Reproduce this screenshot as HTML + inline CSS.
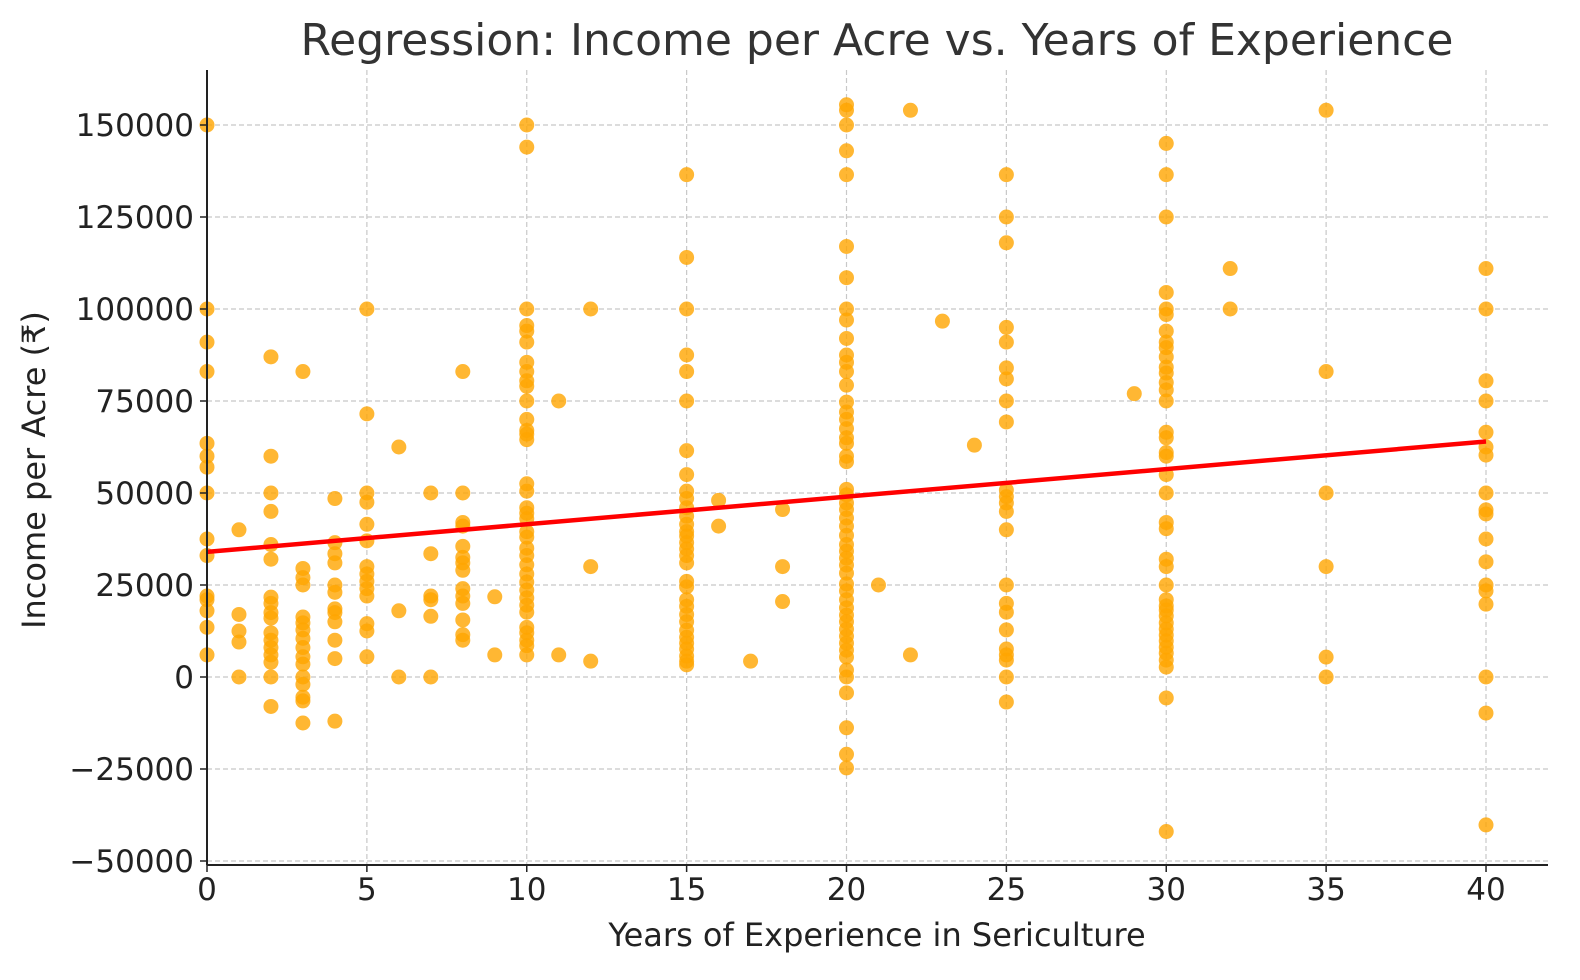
<!DOCTYPE html>
<html><head><meta charset="utf-8"><style>
body{margin:0;background:#fff}
svg{display:block;font-family:"DejaVu Sans","Liberation Sans",sans-serif}
</style></head><body>
<svg id="chart" width="1580" height="980" viewBox="0 0 1580 980" xmlns="http://www.w3.org/2000/svg">
<text x="877" y="55" font-size="44" text-anchor="middle" fill="#333">Regression: Income per Acre vs. Years of Experience</text>
<text x="877" y="946" font-size="32" text-anchor="middle" fill="#222">Years of Experience in Sericulture</text>
<text transform="translate(45,470) rotate(-90)" font-size="32" text-anchor="middle" fill="#222">Income per Acre (₹)</text>
<g id="grid"></g><g id="pts"></g><g id="reg"></g><g id="axes"></g>
</svg>
<script>
const xTicks=[0,5,10,15,20,25,30,35,40];
const yTicks=[-50000,-25000,0,25000,50000,75000,100000,125000,150000];
const yTickLabels=["−50000","−25000","0","25000","50000","75000","100000","125000","150000"];
const years=[0,1,2,3,4,5,6,7,8,9,10,11,12,15,16,17,18,20,21,22,23,24,25,29,30,32,35,40];
const incomes=[
[150000,100000,91000,83000,63500,60000,57000,50000,37500,33000,22000,21000,18000,13500,6000],
[40000,17000,12500,9500,0],
[87000,60000,50000,45000,36000,32000,21700,20000,17500,16000,12000,10000,8000,6000,4000,0,-8000],
[83000,29500,27000,25000,16300,14700,12800,10500,8000,5500,3500,0,-2000,-5500,-6500,-12500],
[48500,36500,33500,31000,25000,23000,18500,17500,15000,10000,5000,-12000],
[100000,71500,50000,47500,41500,37000,30000,28000,26000,24000,22000,14500,12500,5500],
[62500,18000,0],
[50000,33500,22000,21000,16500,0],
[83000,50000,42000,41000,35500,32500,31000,29000,24000,22000,20000,15500,11500,10000],
[21800,6000],
[150000,144000,100000,95500,94000,91000,85500,83000,80500,79000,75000,70000,67000,66000,64500,52500,50500,46000,44500,43000,39500,38000,35000,33000,30500,28000,25800,23600,21500,19500,17600,13500,12000,10000,8500,6000],
[75000,6000],
[100000,30000,4300],
[136500,114000,100000,87500,83000,75000,61500,55000,50500,48500,46000,43700,41500,39500,38300,36500,34800,33000,31000,26000,24500,21000,19200,17000,15000,12700,10800,9200,7600,5700,4300,3300],
[48000,41000],
[4300],
[45500,30000,20500],
[155500,154000,150000,143000,136500,117000,108500,100000,97000,92000,87500,85500,83000,79300,74700,72000,70000,67500,65000,63500,60000,58500,51000,49500,47300,45500,43200,41000,38500,36000,34200,32300,30400,28200,25300,23400,21000,18800,16800,15000,13000,11100,9200,7300,5400,1900,0,-4300,-13800,-21000,-24700],
[25000],
[154000,6000],
[96700],
[63000],
[136500,125000,118000,95000,91000,84000,81000,75000,69300,50800,49000,47300,45000,40000,25000,20000,17600,12800,7600,6000,4600,0,-6800],
[77000],
[145000,136500,125000,104500,100000,98500,94000,91000,89500,87000,84200,82600,80000,78000,75000,66500,65000,61000,60000,55000,50000,42000,40300,32000,30000,25000,21000,19300,18200,16600,14700,13000,11400,9800,8100,6500,4600,2700,-5700,-42000],
[111000,100000],
[154000,83000,50000,30000,5400,0],
[111000,100000,80500,75000,66500,62500,60300,50000,45400,44300,37500,31300,25000,23400,19800,0,-9800,-40200]
];
const regIntercept=34000, regSlope=750;
const X=v=>207+v*31.975, Y=v=>677-v*0.00368;
const NS="http://www.w3.org/2000/svg";
function mk(tag,attrs,parent,txt){const e=document.createElementNS(NS,tag);for(const k in attrs)e.setAttribute(k,attrs[k]);if(txt!==undefined)e.textContent=txt;parent.appendChild(e);return e;}
const grid=document.getElementById('grid'),axes=document.getElementById('axes'),pts=document.getElementById('pts'),reg=document.getElementById('reg');
xTicks.forEach(t=>{
 const l=mk('line',{x1:X(t),x2:X(t),y1:70,y2:865,stroke:'#c8c8c8','stroke-width':1.2,'stroke-dasharray':'5,3'},grid);
 
 
 mk('line',{x1:X(t),x2:X(t),y1:865,y2:872,stroke:'#222','stroke-width':1.5},axes);
 const tx=mk('text',{x:X(t),y:900,'font-size':31,'text-anchor':'middle',fill:'#222'},axes,String(t));
 
 
});
yTicks.forEach((t,i)=>{
 const l=mk('line',{x1:207,x2:1548,y1:Y(t),y2:Y(t),stroke:'#c8c8c8','stroke-width':1.2,'stroke-dasharray':'5,3'},grid);
 
 
 mk('line',{x1:200,x2:207,y1:Y(t),y2:Y(t),stroke:'#222','stroke-width':1.5},axes);
 const tx=mk('text',{x:194,y:Y(t)+11,'font-size':31,'text-anchor':'end',fill:'#222'},axes,yTickLabels[i]);
 
 
});
const la=mk('line',{x1:207,x2:207,y1:70,y2:865,stroke:'#222','stroke-width':2},axes);


const lb=mk('line',{x1:207,x2:1548,y1:865,y2:865,stroke:'#222','stroke-width':2},axes);


years.forEach((yr,i)=>{incomes[i].forEach(v=>{
 const c=mk('circle',{cx:X(yr),cy:Y(v),r:7.5,fill:'#FFA500','fill-opacity':0.8},pts);
 
 
});});
const rl=mk('line',{x1:X(0),y1:Y(regIntercept),x2:X(40),y2:Y(regIntercept+regSlope*40),stroke:'#ff0000','stroke-width':4.5},reg);


</script>
</body></html>
